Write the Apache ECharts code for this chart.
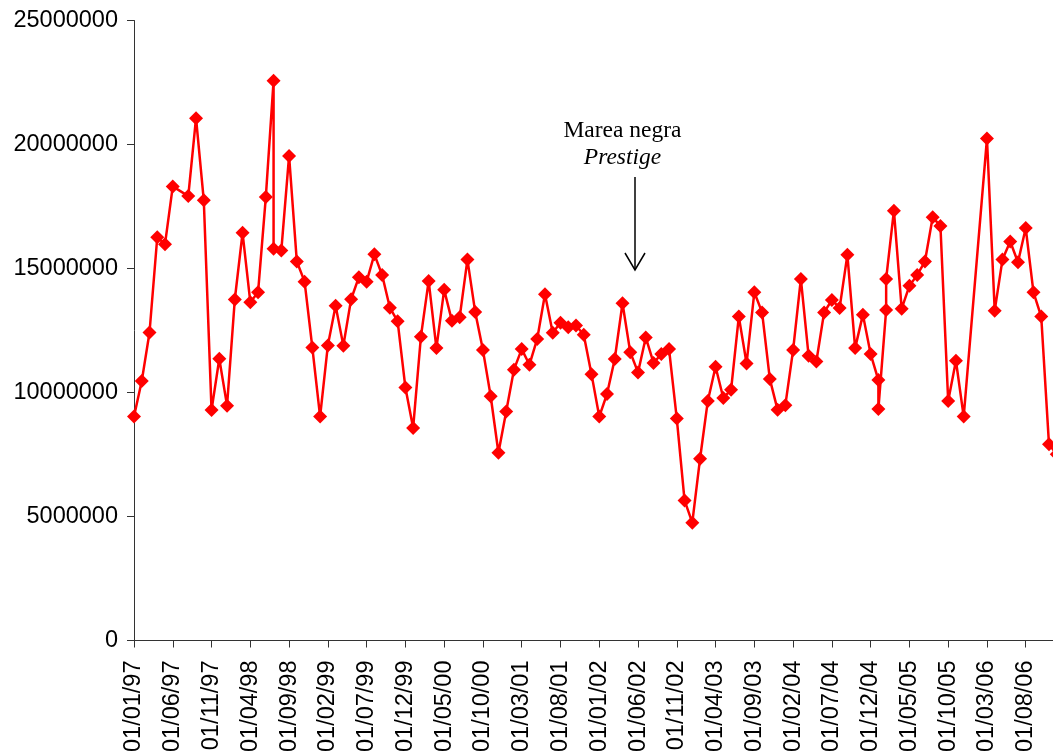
<!DOCTYPE html>
<html>
<head>
<meta charset="utf-8">
<script src="https://cdn.jsdelivr.net/npm/echarts@6/dist/echarts.min.js"></script>
<style>
  html, body { margin: 0; padding: 0; background: #ffffff; }
  #chart { width: 1053px; height: 756px; }
</style>
</head>
<body>
<div id="chart"></div>
<script>
// Month index (0 = January 1997) of each observation
const months = [
  0, 1, 2, 3, 4, 5, 7, 8, 9, 10, 11, 12, 13, 14, 15, 16, 17, 18, 18, 19,
  20, 21, 22, 23, 24, 25, 26, 27, 28, 29, 30, 31, 32, 33, 34, 35, 36, 37, 38, 39,
  40, 41, 42, 43, 44, 45, 46, 47, 48, 49, 50, 51, 52, 53, 54, 55, 56, 57, 58, 59,
  60, 61, 62, 63, 64, 65, 66, 67, 68, 69, 70, 71, 72, 73, 74, 75, 76, 77, 78, 79,
  80, 81, 82, 83, 84, 85, 86, 87, 88, 89, 90, 91, 92, 93, 94, 95, 96, 96, 97, 97,
  98, 99, 100, 101, 102, 103, 104, 105, 106, 107, 110, 111, 112, 113, 114, 115, 116, 117, 118, 119
];

// Monthly totals
const values = [
  9030000, 10460000, 12420000, 16260000, 15980000, 18310000, 17920000, 21060000, 17750000, 9290000,
  11360000, 9470000, 13750000, 16440000, 13640000, 14040000, 17880000, 22570000, 15800000, 15730000,
  19540000, 15280000, 14470000, 11810000, 9030000, 11900000, 13500000, 11890000, 13760000, 14650000,
  14470000, 15570000, 14740000, 13420000, 12870000, 10200000, 8570000, 12250000, 14500000, 11790000,
  14140000, 12890000, 13030000, 15360000, 13250000, 11710000, 9850000, 7570000, 9230000, 10920000,
  11750000, 11120000, 12160000, 13960000, 12410000, 12810000, 12630000, 12700000, 12330000, 10740000,
  9030000, 9940000, 11350000, 13600000, 11620000, 10810000, 12220000, 11190000, 11550000, 11750000,
  8950000, 5650000, 4750000, 7330000, 9660000, 11040000, 9780000, 10110000, 13060000, 11170000,
  14040000, 13230000, 10540000, 9300000, 9490000, 11710000, 14580000, 11480000, 11250000, 13230000,
  13730000, 13410000, 15550000, 11790000, 13140000, 11550000, 10500000, 9330000, 13330000, 14580000,
  17330000, 13380000, 14300000, 14740000, 15280000, 17070000, 16710000, 9660000, 11280000, 9030000,
  20240000, 13300000, 15360000, 16090000, 15250000, 16630000, 14040000, 13060000, 7910000, 7510000
];

// Date labels, one every five months
const tickLabels = [
  '01/01/97', '01/06/97', '01/11/97', '01/04/98', '01/09/98', '01/02/99',
  '01/07/99', '01/12/99', '01/05/00', '01/10/00', '01/03/01', '01/08/01',
  '01/01/02', '01/06/02', '01/11/02', '01/04/03', '01/09/03', '01/02/04',
  '01/07/04', '01/12/04', '01/05/05', '01/10/05', '01/03/06', '01/08/06'
];

const annotationTitle = 'Marea negra';
const annotationName = 'Prestige';

const seriesData = months.map((m, i) => [m, values[i]]);

const chart = echarts.init(document.getElementById('chart'), null, { renderer: 'canvas' });

const axisColor = '#333333';
const labelFont = 'Liberation Sans, Arial, sans-serif';
const serifFont = 'Liberation Serif, Times New Roman, serif';

chart.setOption({
  backgroundColor: '#ffffff',
  animation: false,
  grid: {
    left: 134, top: 20.5, width: 930.5, height: 620,
    containLabel: false,
    outerBoundsMode: 'none'
  },
  xAxis: {
    type: 'value',
    min: 0,
    max: 120,
    interval: 5,
    axisLine: { show: true, onZero: false, lineStyle: { color: axisColor, width: 1 } },
    axisTick: { show: true, length: 7, lineStyle: { color: axisColor, width: 1 } },
    splitLine: { show: false },
    axisLabel: {
      rotate: 90,
      margin: 20,
      fontSize: 23.5,
      fontFamily: labelFont,
      color: '#000000',
      formatter: v => tickLabels[Math.round(v / 5)] || ''
    }
  },
  yAxis: {
    type: 'value',
    min: 0,
    max: 25000000,
    interval: 5000000,
    axisLine: { show: true, lineStyle: { color: axisColor, width: 1 } },
    axisTick: { show: true, length: 7, lineStyle: { color: axisColor, width: 1 } },
    splitLine: { show: false },
    axisLabel: {
      margin: 16,
      fontSize: 23.5,
      fontFamily: labelFont,
      color: '#000000',
      formatter: v => String(v)
    }
  },
  series: [{
    type: 'line',
    data: seriesData,
    symbol: 'diamond',
    symbolSize: 14,
    showSymbol: true,
    color: '#ff0000',
    itemStyle: { color: '#ff0000' },
    lineStyle: { color: '#ff0000', width: 2.5 }
  }],
  graphic: [
    {
      type: 'text',
      style: {
        text: annotationTitle, x: 622.5, y: 131,
        align: 'center', verticalAlign: 'middle',
        font: '23.5px ' + serifFont, fill: '#000000'
      }
    },
    {
      type: 'text',
      style: {
        text: annotationName, x: 622.5, y: 158,
        align: 'center', verticalAlign: 'middle',
        font: 'italic 23.5px ' + serifFont, fill: '#000000'
      }
    },
    {
      type: 'line',
      shape: { x1: 635, y1: 177, x2: 635, y2: 270 },
      style: { stroke: '#000000', lineWidth: 1.5 }
    },
    {
      type: 'polyline',
      shape: { points: [[625, 253], [635, 270], [645, 253]] },
      style: { stroke: '#000000', lineWidth: 1.5, fill: null }
    }
  ]
});
</script>
</body>
</html>
